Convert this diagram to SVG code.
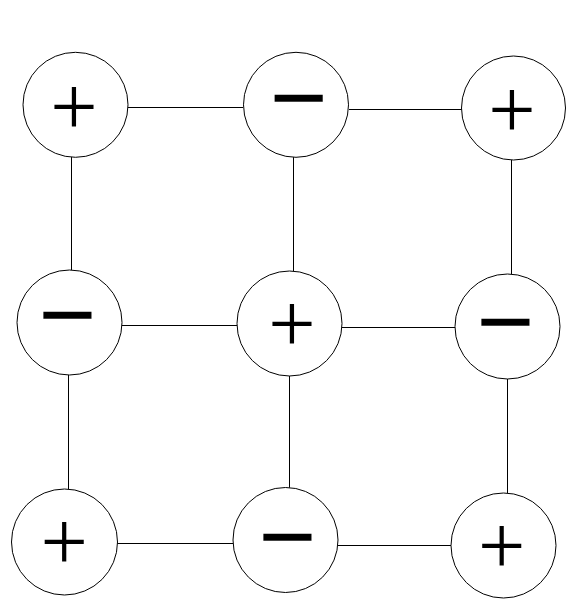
<svg xmlns="http://www.w3.org/2000/svg" width="575" height="607" viewBox="0 0 575 607">
<style>
.n{fill:#fff;stroke:#000;stroke-width:1}
.e{stroke:#000;stroke-width:1;fill:none}
.p{font-family:"Liberation Serif",serif;font-size:84px;text-anchor:middle;fill:#000}
.m{font-family:"Liberation Sans",sans-serif;font-size:99px;text-anchor:middle;fill:#000}
</style>
<rect width="575" height="607" fill="#fff"/>
<g id="connectors">
<line class="e" x1="128" y1="107.5" x2="243" y2="107.5"/>
<line class="e" x1="349" y1="109.5" x2="462" y2="109.5"/>
<line class="e" x1="122" y1="325.5" x2="237" y2="325.5"/>
<line class="e" x1="342" y1="327.5" x2="455" y2="327.5"/>
<line class="e" x1="117" y1="543.5" x2="233" y2="543.5"/>
<line class="e" x1="338" y1="545.5" x2="451" y2="545.5"/>
<line class="e" x1="71.5" y1="157" x2="71.5" y2="270"/>
<line class="e" x1="68.5" y1="375" x2="68.5" y2="489"/>
<line class="e" x1="293.5" y1="157" x2="293.5" y2="271"/>
<line class="e" x1="289.5" y1="376" x2="289.5" y2="488"/>
<line class="e" x1="511.5" y1="160" x2="511.5" y2="274"/>
<line class="e" x1="507.5" y1="379" x2="507.5" y2="493"/>
</g>
<g id="n1"><circle class="n" cx="75.5" cy="104.8" r="52.5"/><text class="p" x="74" y="134.5">+</text></g>
<g id="n2"><circle class="n" cx="296" cy="104.8" r="52.5"/><text class="m" x="298.7" y="131">−</text></g>
<g id="n3"><circle class="n" cx="513.5" cy="108" r="52"/><text class="p" x="512" y="138">+</text></g>
<g id="n4"><circle class="n" cx="69.5" cy="322.5" r="52.5"/><text class="m" x="67.5" y="348">−</text></g>
<g id="n5"><circle class="n" cx="289.5" cy="323.5" r="52.5"/><text class="p" x="292" y="352">+</text></g>
<g id="n6"><circle class="n" cx="507.5" cy="326.5" r="52.5"/><text class="m" x="505.5" y="354.5">−</text></g>
<g id="n7"><circle class="n" cx="64.5" cy="542" r="53"/><text class="p" x="64.2" y="570">+</text></g>
<g id="n8"><circle class="n" cx="285.5" cy="540" r="52.5"/><text class="m" x="287.5" y="570">−</text></g>
<g id="n9"><circle class="n" cx="503.5" cy="545.5" r="52.5"/><text class="p" x="501.8" y="574">+</text></g>
</svg>
